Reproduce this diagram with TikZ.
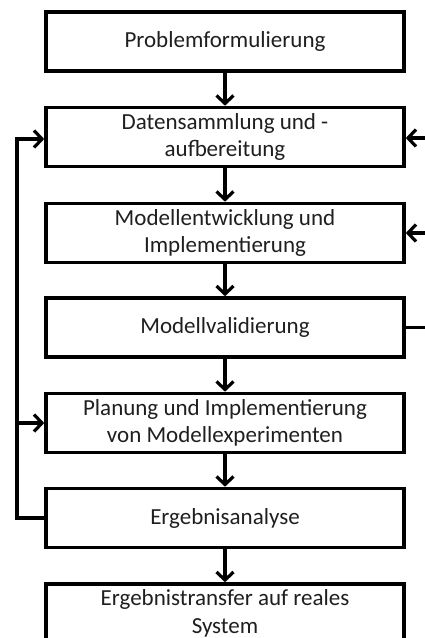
\documentclass[tikz,border=0pt]{standalone}
\usepackage{fontspec}
\setmainfont{Carlito}
\usetikzlibrary{arrows.meta}
\begin{document}
\begin{tikzpicture}[x=1pt,y=-1pt,
  stepbox/.style={draw=black, line width=3.6pt, minimum width=358pt, minimum height=59pt,
    inner sep=0pt, align=center, font=\fontsize{23}{27.5}\selectfont, text=black!88},
  flow/.style={line width=3.2pt, -{Straight Barb[length=8pt,width=17pt,line width=3.2pt]}},
  plain/.style={line width=3.2pt}]
\useasboundingbox (0,0) rectangle (425,638);
\fill[white] (0,0) rectangle (425,638);
\clip (0,0) rectangle (425,638);
\node[stepbox] (b1) at (225,41.5) {Problemformulierung};
\node[stepbox] (b2) at (225,137) {Datensammlung und -\\aufbereitung};
\node[stepbox] (b3) at (225,233) {Modellentwicklung und\\Implementierung};
\node[stepbox] (b4) at (225,327.5) {Modellvalidierung};
\node[stepbox] (b5) at (225,423) {Planung und Implementierung\\von Modellexperimenten};
\node[stepbox] (b6) at (225,518) {Ergebnisanalyse};
\node[stepbox] (b7) at (225,613.5) {Ergebnistransfer auf reales\\System};
\draw[flow] (b1) -- (b2);
\draw[flow] (b2) -- (b3);
\draw[flow] (b3) -- (b4);
\draw[flow] (b4) -- (b5);
\draw[flow] (b5) -- (b6);
\draw[flow] (b6) -- (b7);
% left feedback
\coordinate (l6) at (17,518);
\coordinate (l5) at (17,423);
\coordinate (l2) at (17,139);
\draw[plain] (b6.west) -- (l6) -- (l2);
\draw[flow] ([xshift=-1.6pt]l2) -- (b2.west |- l2);
\draw[flow] (l5) -- (b5.west);
% right feedback
\coordinate (r4) at (440,327.5);
\coordinate (r3) at (440,233);
\coordinate (r2) at (440,138);
\draw[plain] (b4.east) -- (r4) -- ([yshift=-1.6pt]r2);
\draw[flow] (r2) -- (b2.east |- r2);
\draw[flow] (r3) -- (b3.east);
\end{tikzpicture}
\end{document}
